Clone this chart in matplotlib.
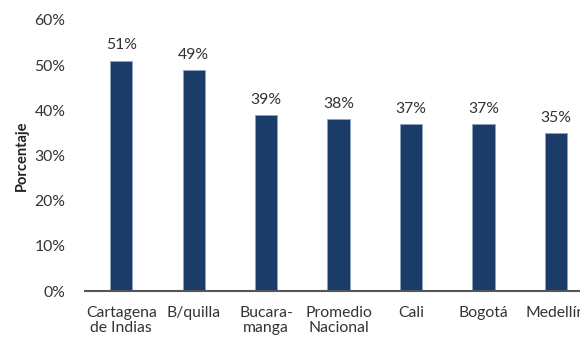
import matplotlib.pyplot as plt

plt.rcParams['font.family'] = ['Lato', 'DejaVu Sans']

ciudades = ['Cartagena\nde Indias', 'B/quilla', 'Bucara-\nmanga', 'Promedio\nNacional',
            'Cali', 'Bogotá', 'Medellín']
valores = [51, 49, 39, 38, 37, 37, 35]

fig = plt.figure(figsize=(5.8, 3.38), dpi=100)
ax = fig.add_axes([0.1466, 0.139, 0.8534, 0.802])

x = range(len(ciudades))
ax.bar(x, valores, width=0.31, color='#1b3c69', edgecolor='#8fa3bf', linewidth=0.6, zorder=2)
for xi, v in zip(x, valores):
    ax.text(xi, v + 1.8, f'{v}%', ha='center', va='bottom', fontsize=11.3, color='#333333')

ax.set_xlim(-0.5, 6.33)
ax.set_ylim(0, 60)
ax.set_yticks(range(0, 61, 10))
ax.set_yticklabels([f'{t}%' for t in range(0, 61, 10)], fontsize=11.3, color='#333333')
ax.set_xticks(list(x))
ax.set_xticklabels(ciudades, fontsize=11.3, color='#333333', linespacing=1.05)
ax.tick_params(axis='both', length=0)
ax.tick_params(axis='y', pad=14)
ax.tick_params(axis='x', pad=11)
ax.set_ylabel('Porcentaje', fontsize=10.5, fontweight='bold', color='#222222', labelpad=4)

for s in ['top', 'right', 'left']:
    ax.spines[s].set_visible(False)
ax.spines['bottom'].set_color('#555555')
ax.spines['bottom'].set_linewidth(1.5)

fig.savefig('out.png', dpi=100)
